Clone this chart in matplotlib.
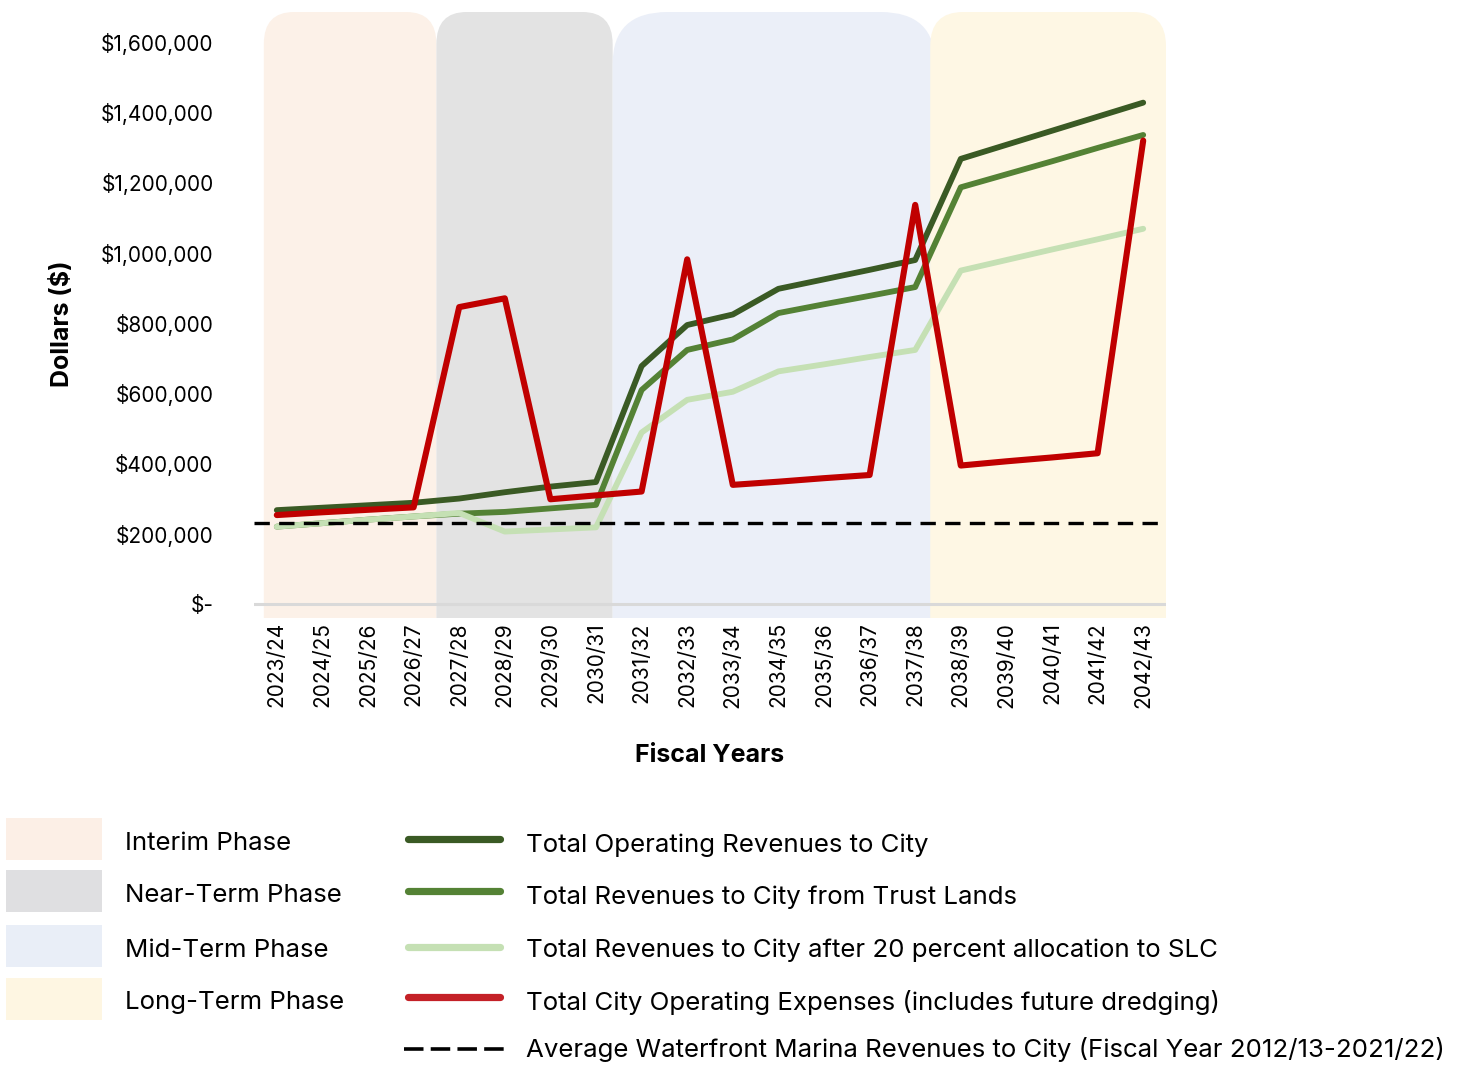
import matplotlib
matplotlib.use("Agg")
import matplotlib.pyplot as plt
import numpy as np
from matplotlib.patches import FancyBboxPatch, Rectangle
from matplotlib.lines import Line2D
from matplotlib.ticker import FuncFormatter

plt.rcParams["font.family"] = ["Inter", "DejaVu Sans"]

# ---- data -------------------------------------------------------------
fiscal_years = ["2023/24", "2024/25", "2025/26", "2026/27", "2027/28", "2028/29",
                "2029/30", "2030/31", "2031/32", "2032/33", "2033/34", "2034/35",
                "2035/36", "2036/37", "2037/38", "2038/39", "2039/40", "2040/41",
                "2041/42", "2042/43"]

operating_revenues = [267000, 274000, 281000, 288000, 300000, 318000, 334000, 347000,
                      677000, 794000, 824000, 897000, 924000, 951000, 979000,
                      1267000, 1307000, 1347000, 1387000, 1427000]

trust_land_revenues = [220000, 230000, 240000, 249000, 257000, 262000, 272000, 282000,
                       609000, 723000, 753000, 828000, 853000, 877000, 902000,
                       1186000, 1223000, 1260000, 1298000, 1335000]

after_slc_revenues = [220000, 230000, 240000, 249000, 259000, 206000, 212000, 218000,
                      488000, 581000, 604000, 662000, 682000, 703000, 723000,
                      949000, 979000, 1009000, 1038000, 1068000]

operating_expenses = [253000, 261000, 268000, 275000, 845000, 870000, 298000, 309000,
                      320000, 981000, 339000, 348000, 358000, 367000, 1136000,
                      394000, 406000, 417000, 429000, 1319000]

avg_marina_revenue = 230000

y_ticks = [0, 200000, 400000, 600000, 800000, 1000000, 1200000, 1400000, 1600000]

phase_names = ["Interim Phase", "Near-Term Phase", "Mid-Term Phase", "Long-Term Phase"]
phase_start = [-0.285, 3.5, 7.365, 14.33]
phase_end = [3.5, 7.365, 14.44, 19.5]

series_labels = [
    "Total Operating Revenues to City",
    "Total Revenues to City from Trust Lands",
    "Total Revenues to City after 20 percent allocation to SLC",
    "Total City Operating Expenses (includes future dredging)",
    "Average Waterfront Marina Revenues to City (Fiscal Year 2012/13-2021/22)",
]

# ---- styling ----------------------------------------------------------
phase_colors = ["#FCF1E8", "#E3E3E3", "#EBEFF8", "#FEF7E4"]
phase_legend_colors = ["#FCEFE6", "#DFDFE1", "#E9EEF7", "#FEF6E2"]
# corner radii: (x in years, y in dollars)
phase_radius = [(0.66, 91000), (0.66, 91000), (1.2, 148000), (0.72, 97000)]

c_dark = "#3A5A24"
c_mid = "#548235"
c_light = "#C5E0B4"
c_red = "#C00000"

W, H = 1465, 1065
fig = plt.figure(figsize=(W / 100, H / 100), dpi=100)
ax = fig.add_axes([254 / W, 1 - 618 / H, 912 / W, 606 / H])

ymin, ymax = -40000, 1685000
ax.set_xlim(-0.5, 19.5)
ax.set_ylim(ymin, ymax)

# phase backgrounds with rounded tops (bottom corners fall outside the axes)
for x0, x1, col, (rx, ry) in zip(phase_start, phase_end, phase_colors, phase_radius):
    box = FancyBboxPatch((x0, ymin - 400000), x1 - x0, ymax - ymin + 400000,
                         boxstyle=f"round,pad=0,rounding_size={rx}",
                         mutation_aspect=ry / rx, facecolor=col, edgecolor="none",
                         zorder=0, clip_on=True)
    ax.add_patch(box)

ax.axhline(0, color="#D9D9D9", lw=2.2, zorder=1)

x = np.arange(len(fiscal_years))
line_kw = dict(solid_capstyle="round", solid_joinstyle="round")
ax.plot(x, trust_land_revenues, color=c_mid, lw=4.2, zorder=2, **line_kw)
ax.plot(x, after_slc_revenues, color=c_light, lw=4.2, zorder=3, **line_kw)
ax.plot(x, operating_revenues, color=c_dark, lw=4.2, zorder=4, **line_kw)
ax.plot(x, operating_expenses, color=c_red, lw=4.4, zorder=5, **line_kw)
ax.axhline(avg_marina_revenue, color="black", lw=2.4, dashes=(4.6, 2.8), zorder=6)

for s in ax.spines.values():
    s.set_visible(False)

ax.set_yticks(y_ticks)
ax.yaxis.set_major_formatter(FuncFormatter(lambda v, p: "$-" if v == 0 else f"${v:,.0f}"))
ax.set_xticks(x)
ax.set_xticklabels(fiscal_years, rotation=90)
ax.tick_params(axis="y", length=0, pad=29, labelsize=15, colors="black")
ax.tick_params(axis="x", length=0, pad=3, labelsize=15, colors="black")
for t in ax.get_xticklabels():
    t.set_va("top")

fig.text(62 / W, 1 - 324 / H, "Dollars ($)", rotation=90, ha="center", va="center",
         fontsize=18, fontweight="bold")
fig.text(710 / W, 1 - 756 / H, "Fiscal Years", ha="center", va="center",
         fontsize=18, fontweight="bold")

# ---- legend -----------------------------------------------------------
lax = fig.add_axes([0, 0, 1, 1])
lax.set_xlim(0, W)
lax.set_ylim(H, 0)
lax.axis("off")

patch_rows = [839, 891, 946, 998.5]
for yc, name, col in zip(patch_rows, phase_names, phase_legend_colors):
    lax.add_patch(Rectangle((6, yc - 21), 96, 42, facecolor=col, edgecolor="none"))
    lax.text(125, yc + 11, name, ha="left", va="baseline", fontsize=18.6)

line_rows = [839, 891, 947, 997, 1049]
text_rows = [852, 904, 957, 1010, 1057]
line_styles = [
    dict(color=c_dark, lw=5.2),
    dict(color=c_mid, lw=5.2),
    dict(color=c_light, lw=5.2),
    dict(color="#C42127", lw=5.2),
    dict(color="black", lw=2.6, dashes=(5.4, 2.0)),
]
for yc, yt, label, st in zip(line_rows, text_rows, series_labels, line_styles):
    if "dashes" in st:
        lax.add_line(Line2D([404, 504], [yc, yc], color=st["color"], lw=st["lw"],
                            dashes=st["dashes"], dash_capstyle="butt"))
    else:
        lax.add_line(Line2D([408, 500], [yc, yc], color=st["color"], lw=st["lw"],
                            solid_capstyle="round"))
    lax.text(526, yt, label, ha="left", va="baseline", fontsize=18.6)

fig.savefig("out.png", dpi=100)
